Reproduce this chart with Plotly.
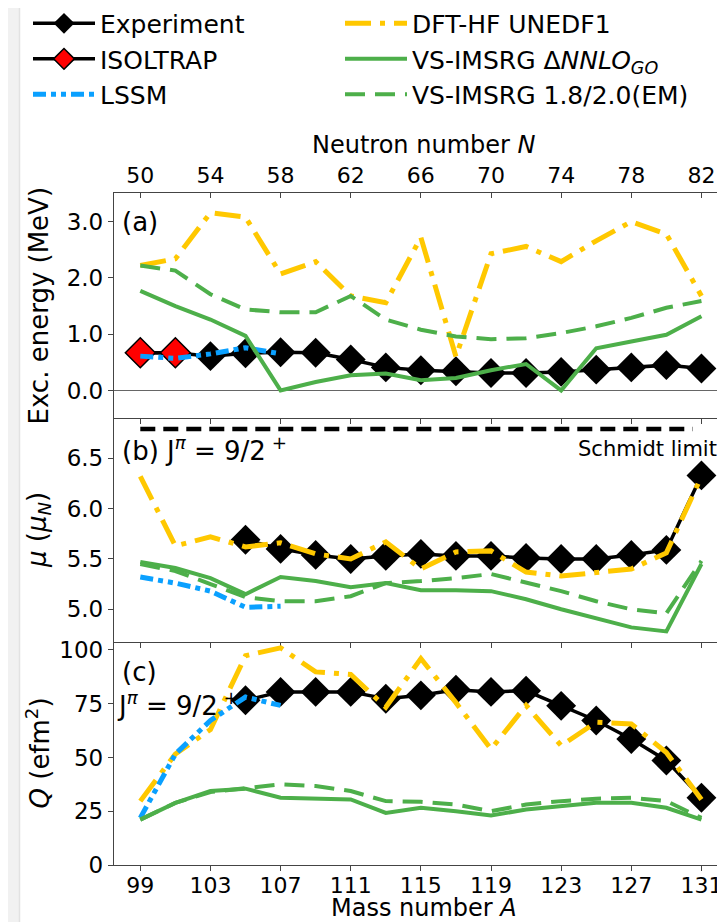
import plotly.graph_objects as go

# ---------------- data ----------------
A = [99, 101, 103, 105, 107, 109, 111, 113, 115, 117, 119, 121, 123, 125, 127, 129, 131]
N_ticks = [50, 54, 58, 62, 66, 70, 74, 78, 82]
A_ticks = [99, 103, 107, 111, 115, 119, 123, 127, 131]
N_of_A = [a - 49 for a in A]

# (a) excitation energy (MeV)
isol_A = [99, 101]
isol_E = [0.67, 0.67]
expE_A = [103, 105, 107, 109, 111, 113, 115, 117, 119, 121, 123, 125, 127, 129, 131]
exp_E = [0.61, 0.66, 0.68, 0.67, 0.55, 0.41, 0.36, 0.34, 0.31, 0.31, 0.33, 0.37, 0.41, 0.45, 0.39]
lssm_A = [99, 101, 103, 105, 107]
lssm_E = [0.61, 0.57, 0.65, 0.76, 0.65]
dft_E = [2.22, 2.34, 3.16, 3.08, 2.07, 2.29, 1.68, 1.56, 2.72, 0.60, 2.43, 2.56, 2.29, 2.66, 3.00, 2.78, 1.68]
go_E = [1.77, 1.50, 1.26, 0.97, 0.00, 0.15, 0.27, 0.30, 0.18, 0.22, 0.36, 0.47, 0.00, 0.75, 0.87, 0.99, 1.32]
em_E = [2.22, 2.13, 1.71, 1.44, 1.39, 1.39, 1.68, 1.26, 1.08, 0.96, 0.91, 0.93, 1.02, 1.14, 1.29, 1.47, 1.59]

# (b) magnetic moment (mu_N)
expM_A = [105, 107, 109, 111, 113, 115, 117, 119, 121, 123, 125, 127, 129, 131]
exp_mu = [5.69, 5.60, 5.54, 5.50, 5.53, 5.55, 5.53, 5.53, 5.51, 5.50, 5.50, 5.54, 5.59, 6.33]
lssm_mu = [5.32, 5.26, 5.18, 5.02, 5.03]
dft_mu = [6.32, 5.63, 5.72, 5.62, 5.66, 5.55, 5.50, 5.67, 5.40, 5.57, 5.58, 5.37, 5.33, 5.36, 5.40, 5.56, 6.32]
go_mu = [5.47, 5.41, 5.31, 5.15, 5.32, 5.28, 5.22, 5.26, 5.19, 5.19, 5.18, 5.10, 5.00, 4.91, 4.82, 4.78, 5.45]
em_mu = [5.45, 5.38, 5.25, 5.12, 5.08, 5.08, 5.13, 5.26, 5.28, 5.31, 5.35, 5.27, 5.18, 5.08, 5.00, 4.96, 5.48]
schmidt_A = [99, 130.5]
schmidt_mu = [6.79, 6.79]

# (c) quadrupole moment (e fm^2)
expQ_A = [105, 107, 109, 111, 113, 115, 117, 119, 121, 123, 125, 127, 129, 131]
exp_Q = [76.6, 80.5, 80.5, 80.5, 77.3, 78.9, 81.5, 80.5, 81.0, 74.0, 67.2, 58.6, 48.6, 31.3]
lssm_Q = [21.9, 51.6, 67.2, 78.1, 74.2]
dft_Q = [29.7, 51.6, 63.0, 97.3, 101.0, 89.8, 88.6, 73.4, 96.0, 75.5, 53.9, 74.2, 55.5, 66.4, 65.6, 52.3, 30.5]
go_Q = [21.1, 28.9, 34.4, 35.5, 31.3, 30.9, 30.5, 24.2, 26.6, 25.0, 23.0, 25.8, 27.3, 28.9, 28.9, 26.6, 21.1]
em_Q = [21.1, 28.9, 33.9, 35.9, 37.5, 36.7, 34.4, 29.7, 29.4, 28.1, 25.0, 28.1, 29.7, 30.8, 31.3, 29.7, 21.9]

# ---------------- styles ----------------
BLACK = "black"
GOLD = "#FFC800"
GREEN = "#4DAF4A"
BLUE = "#0AA0FF"
FONT = "DejaVu Sans"
DFT_DASH = "26px,9px,5px,9px"
LSSM_DASH = "13px,5px,5px,5px,5px,5px"
EM_DASH = "20px,10px"

fig = go.Figure()

PA, PB, PC = ("x", "y"), ("x2", "y2"), ("x3", "y3")


def add(x, y, name, ax, show=False, leg="legend", rank=1, **kw):
    fig.add_trace(go.Scatter(x=x, y=y, name=name, legendgroup=name, showlegend=show, legend=leg,
                             legendrank=rank, xaxis=ax[0], yaxis=ax[1], hoverinfo="skip", **kw))


exp_marker = dict(symbol="diamond", size=23, color=BLACK, line=dict(color=BLACK, width=0))
isol_marker = dict(symbol="diamond", size=23, color="red", line=dict(color=BLACK, width=1.5))
L_EXP = dict(color=BLACK, width=3.5)
L_LSSM = dict(color=BLUE, width=5, dash=LSSM_DASH)
L_DFT = dict(color=GOLD, width=5, dash=DFT_DASH)
L_GO = dict(color=GREEN, width=4)
L_EM = dict(color=GREEN, width=4, dash=EM_DASH)
GO_NAME = "VS-IMSRG Δ<i>NNLO<sub>GO</sub></i>"
EM_NAME = "VS-IMSRG 1.8/2.0(EM)"

# panel (a)
add(isol_A + expE_A, isol_E + exp_E, "Experiment", PA, True, "legend", 1, mode="lines+markers",
    line=L_EXP, marker=exp_marker)
add(isol_A, isol_E, "ISOLTRAP", PA, True, "legend", 2, mode="lines+markers", line=L_EXP, marker=isol_marker)
add(lssm_A, lssm_E, "LSSM", PA, True, "legend", 3, mode="lines", line=L_LSSM)
add(A, dft_E, "DFT-HF UNEDF1", PA, True, "legend2", 1, mode="lines", line=L_DFT)
add(A, go_E, GO_NAME, PA, True, "legend2", 2, mode="lines", line=L_GO)
add(A, em_E, EM_NAME, PA, True, "legend2", 3, mode="lines", line=L_EM)
# invisible trace carrying the neutron-number (top) axis
fig.add_trace(go.Scatter(x=N_of_A, y=dft_E, xaxis="x4", yaxis="y", mode="lines",
                         line=dict(width=0, color="rgba(0,0,0,0)"), showlegend=False, hoverinfo="skip"))

# panel (b)
add(schmidt_A, schmidt_mu, "Schmidt", PB, mode="lines", line=dict(color=BLACK, width=4.5, dash="15px,8px"))
add(expM_A, exp_mu, "Experiment", PB, mode="lines+markers", line=L_EXP, marker=exp_marker)
add(lssm_A, lssm_mu, "LSSM", PB, mode="lines", line=L_LSSM)
add(A, dft_mu, "DFT-HF UNEDF1", PB, mode="lines", line=L_DFT)
add(A, go_mu, GO_NAME, PB, mode="lines", line=L_GO)
add(A, em_mu, EM_NAME, PB, mode="lines", line=L_EM)

# panel (c)
add(expQ_A, exp_Q, "Experiment", PC, mode="lines+markers", line=L_EXP, marker=exp_marker)
add(A, dft_Q, "DFT-HF UNEDF1", PC, mode="lines", line=L_DFT)
add(lssm_A, lssm_Q, "LSSM", PC, mode="lines", line=L_LSSM)
add(A, go_Q, GO_NAME, PC, mode="lines", line=L_GO)
add(A, em_Q, EM_NAME, PC, mode="lines", line=L_EM)

# ---------------- layout ----------------
H = 922.0
W_L = 106.0
W_P = 725 - W_L


def dom(top_px, bot_px):
    return [(H - bot_px) / H, (H - top_px) / H]


def px_x(px):
    return (px - W_L) / W_P


def px_y(py):
    return (H - py) / H


XR = [97.5, 132.8]
SPINE = "#444444"
TICKF = dict(family=FONT, size=23, color="black")
XTICKF = dict(family=FONT, size=22, color="black")
TITLEF = dict(family=FONT, size=24, color="black")
YTITLEF = dict(family=FONT, size=26, color="black")

xcommon = dict(range=XR, showline=True, linecolor=SPINE, linewidth=1.3, ticks="outside", ticklen=5,
               tickcolor=SPINE, tickvals=A_ticks, showgrid=False, zeroline=False, tickfont=XTICKF,
               ticklabeloverflow="allow")

ycommon = dict(showline=True, linecolor=SPINE, linewidth=1.3, ticks="outside", ticklen=5,
               tickcolor=SPINE, showgrid=False, tickfont=TICKF)

legcommon = dict(orientation="v", xanchor="left", yanchor="top", itemwidth=62,
                 font=dict(family=FONT, size=25), bgcolor="rgba(0,0,0,0)", tracegroupgap=6,
                 traceorder="normal")

fig.update_layout(
    width=725, height=922,
    margin=dict(l=W_L, r=0, t=0, b=0, autoexpand=False),
    paper_bgcolor="white", plot_bgcolor="white",
    font=dict(family=FONT, color="black"),
    showlegend=True,
    legend=dict(legcommon, x=px_x(20), y=1.008),
    legend2=dict(legcommon, x=px_x(332), y=1.008),
    xaxis=dict(xcommon, anchor="y", showticklabels=False),
    xaxis2=dict(xcommon, anchor="y2", matches="x", showticklabels=False),
    xaxis3=dict(xcommon, anchor="y3", matches="x", showticklabels=True, ticklabelstandoff=-5),
    xaxis4=dict(range=[XR[0] - 49, XR[1] - 49], overlaying="x", anchor="y", side="top",
                tickvals=N_ticks, ticks="inside", ticklen=5, tickcolor=SPINE,
                showline=True, linecolor=SPINE, linewidth=1.3, showgrid=False, zeroline=False,
                tickfont=XTICKF, ticklabeloverflow="allow"),
    yaxis=dict(ycommon, anchor="x", domain=dom(185, 410), range=[-0.49, 3.51], tickvals=[0, 1, 2, 3],
               tickformat=".1f", zeroline=True, zerolinecolor="#666666", zerolinewidth=1),
    yaxis2=dict(ycommon, anchor="x2", domain=dom(410, 634), range=[4.675, 6.90],
                tickvals=[5.0, 5.5, 6.0, 6.5], tickformat=".1f", zeroline=False),
    yaxis3=dict(ycommon, anchor="x3", domain=dom(634, 857), range=[0, 103.7],
                tickvals=[0, 25, 50, 75, 100], zeroline=False),
)

# faint window edge on the left of the screenshot
fig.add_shape(type="rect", xref="paper", yref="paper", x0=px_x(0), x1=px_x(11), y0=0, y1=1,
              fillcolor="#f1f1f1", line=dict(width=0), layer="below")
fig.add_shape(type="line", xref="paper", yref="paper", x0=px_x(11.5), x1=px_x(11.5), y0=0, y1=1,
              line=dict(color="#e2e2e2", width=1.5), layer="below")

# axis titles
fig.add_annotation(text="Neutron number <i>N</i>", xref="paper", yref="paper", x=0.5, y=px_y(137),
                   xanchor="center", yanchor="middle", showarrow=False, font=TITLEF)
fig.add_annotation(text="Mass number <i>A</i>", xref="paper", yref="paper", x=0.5, y=px_y(900),
                   xanchor="center", yanchor="middle", showarrow=False, font=TITLEF)
for yd, txt in [("y domain", "Exc. energy (MeV)"),
                ("y2 domain", "<i>μ</i> (<i>μ<sub>N</sub></i>)"),
                ("y3 domain", "<i>Q</i> (efm<sup>2</sup>)")]:
    fig.add_annotation(text=txt, xref="paper", yref=yd, x=px_x(30), y=0.5, textangle=-90,
                       xanchor="center", yanchor="middle", showarrow=False, font=YTITLEF)

ann = dict(showarrow=False, font=dict(family=FONT, size=26, color="black"))
fig.add_annotation(text="(a)", xref="x domain", yref="y domain", x=0.01, y=0.872,
                   xanchor="left", yanchor="middle", **ann)
fig.add_annotation(text="(b) J<sup><i>π</i></sup> = 9/2<sup> +</sup>", xref="x2 domain", yref="y2 domain",
                   x=0.01, y=0.86, xanchor="left", yanchor="middle", **ann)
fig.add_annotation(text="Schmidt limit", xref="x2 domain", yref="y2 domain", x=0.978, y=0.86,
                   xanchor="right", yanchor="middle", showarrow=False,
                   font=dict(family=FONT, size=21, color="black"))
fig.add_annotation(text="(c)", xref="x3 domain", yref="y3 domain", x=0.01, y=0.866,
                   xanchor="left", yanchor="middle", **ann)
fig.add_annotation(text="J<sup><i>π</i></sup> = 9/2<sup> +</sup>", xref="x3 domain", yref="y3 domain",
                   x=0.002, y=0.723, xanchor="left", yanchor="middle", **ann)

fig.write_html("out.html")
